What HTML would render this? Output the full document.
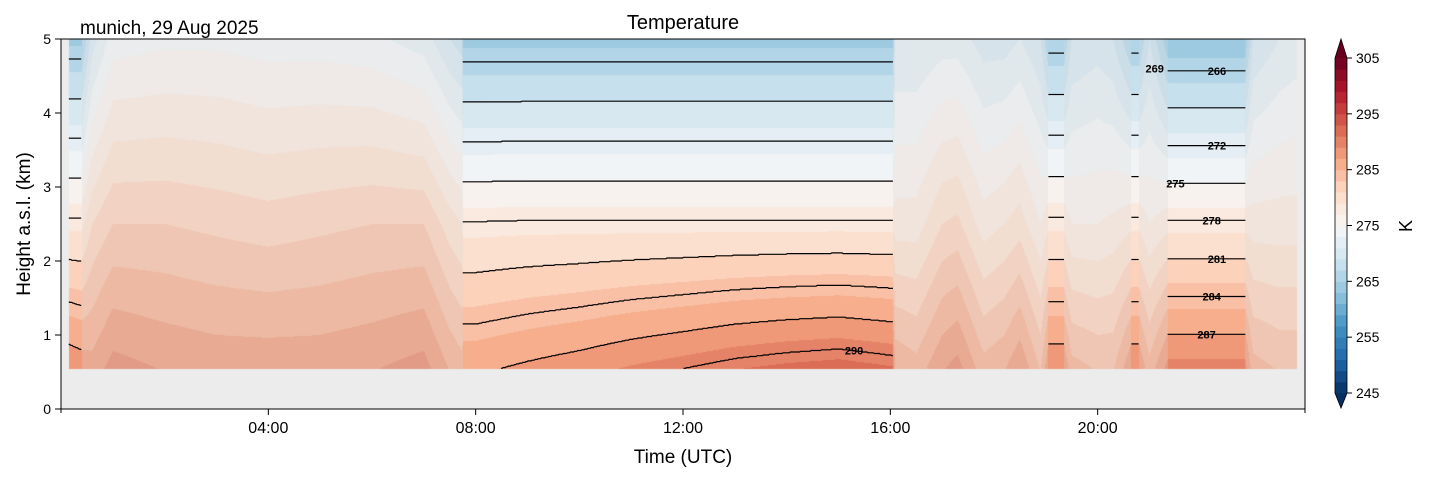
<!DOCTYPE html>
<html><head><meta charset="utf-8">
<style>
body{margin:0;background:#fff;width:1429px;height:478px;overflow:hidden;font-family:"Liberation Sans",sans-serif}
#wrap{position:relative;width:1429px;height:478px}
canvas{position:absolute;left:0;top:0}
svg{position:absolute;left:0;top:0}
</style></head>
<body>
<div id="wrap">
<canvas id="cv" width="1429" height="478"></canvas>
<svg id="sv" width="1429" height="478"></svg>
</div>
<script>
const times=[0.15,0.4,0.6,1,2,3,4,5,6,7,7.5,7.74,7.75,8,9,10,11,12,13,14,15,16.05,16.1,16.5,17,17.3,17.8,18.2,18.5,18.9,19.05,19.35,19.5,20,20.3,20.65,20.8,21,21.35,22,22.85,23,23.5,24];
const tLow=[289,288.5,288,290,289,288.5,288.5,288.5,289,290,287,286,286.8,286.8,287.7,288.5,289.5,290.3,291.2,291.8,292.2,291.5,287,286,289,290,286,287,289,285,289,289,286,285,285,289,289,286,290,290,290,286,285,285];
const tMid=[278.5,278.5,281,283,283,282.5,282,282.5,283,283,280,279,278.2,278.2,278.3,278.3,278.3,278.3,278.3,278.3,278.3,278.3,278,278,281,281.5,278,279,280,277,278.5,278.5,277,277,277.5,278.5,278.5,277,278.3,278.3,278.3,278,278,278];
const tTop=[264.5,264.5,270,274,274.5,274.5,274,274,273.5,272,269,268,264.3,264.3,264.3,264.3,264.3,264.3,264.3,264.3,264.3,264.3,271,271,272,272,270,270,271,269,265,265,269,270,269,265,265,269,263.5,263.5,263.5,269,271,272];
const unmaskedSpans=[[0.15,0.4],[7.75,16.05],[19.05,19.35],[20.65,20.8],[21.35,22.85]];
const contourLevels=[266,269,272,275,278,281,284,287,290];
const cbTicks=[245,255,265,275,285,295,305];
const xTicks=["04:00","08:00","12:00","16:00","20:00"];
const xTickHours=[4,8,12,16,20];
const yTicks=[0,1,2,3,4,5];

const L=61,T=39,W=1244,H=370;
const xs=t=>L+t*W/24, ys=h=>T+H-h*H/5;
const stops=[[5,48,97],[33,102,172],[67,147,195],[146,197,222],[209,229,240],[247,247,247],[253,219,199],[244,165,130],[214,96,77],[178,24,43],[103,0,31]];
function cmap(v){let f=(v-245)/60;f=Math.max(0,Math.min(0.9999,f));const p=f*10,i=Math.floor(p),r=p-i;return stops[i].map((c,k)=>Math.round(c+(stops[i+1][k]-c)*r));}
function band(v){const b=Math.floor((v-245)/2);return cmap(245+b*2+1);}
function interp(t,arr){if(t<=times[0])return arr[0];for(let i=1;i<times.length;i++){if(t<=times[i]){const r=(t-times[i-1])/(times[i]-times[i-1]);return arr[i-1]+(arr[i]-arr[i-1])*r;}}return arr[arr.length-1];}
function prof(t,h){const a=interp(t,tLow),b=interp(t,tMid),c=interp(t,tTop);if(h<2.5)return a+(b-a)*(h-0.5)/2;return b+(c-b)*(h-2.5)/2.5;}
function unmasked(t){return unmaskedSpans.some(s=>t>=s[0]&&t<=s[1]);}
const cv=document.getElementById('cv'),ctx=cv.getContext('2d');
ctx.fillStyle='#ececec';ctx.fillRect(L,T,W,H);
const img=ctx.getImageData(L,T,W,H);
const y0=ys(0.55)-T;
for(let px=0;px<W;px++){const t=(px+0.5)*24/W;if(t<0.15||t>23.85)continue;const um=unmasked(t);
 for(let py=0;py<y0;py++){const h=5-(py+0.5)*5/H;let c=band(prof(t,h));if(!um){c=c.map(v=>Math.round(v*0.72+215*0.28));}
  const o=(py*W+px)*4;img.data[o]=c[0];img.data[o+1]=c[1];img.data[o+2]=c[2];img.data[o+3]=255;}}
ctx.putImageData(img,L,T);

const NS='http://www.w3.org/2000/svg',sv=document.getElementById('sv');
function el(tag,attrs,txt){const e=document.createElementNS(NS,tag);for(const k in attrs)e.setAttribute(k,attrs[k]);if(txt!=null)e.textContent=txt;sv.appendChild(e);return e;}
unmaskedSpans.forEach((s,si)=>{contourLevels.forEach(lv=>{let pts=[];for(let t=s[0];t<=s[1]+1e-6;t+=0.02){let found=null;for(let h=0.55;h<5;h+=0.01){const a=prof(t,h),b=prof(t,h+0.01);if((a-lv)*(b-lv)<=0){found=h;break;}}
 if(found!==null)pts.push(xs(t).toFixed(1)+','+ys(found).toFixed(1));else if(pts.length>1){break;}}
 if(pts.length>1){const p=el('polyline',{points:pts.join(' '),fill:'none',stroke:'#000','stroke-width':1.2});
 
 }});});
[[266,22.3],[269,21.1],[272,22.3],[275,21.5],[278,22.2],[281,22.3],[284,22.2],[287,22.1],[290,15.3]].forEach(d=>{let hh=1;for(let h=0.55;h<5;h+=0.01){if((prof(d[1],h)-d[0])*(prof(d[1],h+0.01)-d[0])<=0){hh=h;break;}}
 const t=el('text',{x:xs(d[1]),y:ys(hh)+4,'font-size':11,'font-weight':'bold','text-anchor':'middle',fill:'#000'},d[0]);
 
 });
el('rect',{x:L,y:T,width:W,height:H,fill:'none',stroke:'#000','stroke-width':1,});
xTickHours.forEach((h,i)=>{el('line',{x1:xs(h),x2:xs(h),y1:T+H,y2:T+H+6,stroke:'#000'});const t=el('text',{x:xs(h),y:T+H+24,'font-size':16,'text-anchor':'middle'},xTicks[i]);});
[0,24].forEach(h=>el('line',{x1:xs(h),x2:xs(h),y1:T+H,y2:T+H+4,stroke:'#000'}));
yTicks.forEach(v=>{el('line',{x1:L-6,x2:L,y1:ys(v),y2:ys(v),stroke:'#000'});const t=el('text',{x:L-10,y:ys(v)+5,'font-size':14,'text-anchor':'end'},v);});
el('text',{x:683,y:463,'font-size':19,'text-anchor':'middle',},'Time (UTC)');
el('text',{x:30,y:224,'font-size':19,'text-anchor':'middle',transform:'rotate(-90 30 224)',},'Height a.s.l. (km)');
el('text',{x:683,y:29,'font-size':20,'text-anchor':'middle',},'Temperature');
el('text',{x:80,y:34,'font-size':19,},'munich, 29 Aug 2025');
const cx=1335,cw=12,cyTop=58,cyBot=393;const cy=v=>cyBot-(v-245)*(cyBot-cyTop)/60;
for(let v=245;v<305;v+=2){const c=cmap(v+1);const r=el('rect',{x:cx,y:cy(v+2),width:cw,height:cy(v)-cy(v+2)+0.5,fill:'rgb('+c+')'});}
el('polygon',{points:`${cx},${cyTop} ${cx+cw},${cyTop} ${cx+cw/2},39`,fill:'rgb('+cmap(305)+')',});
el('polygon',{points:`${cx},${cyBot} ${cx+cw},${cyBot} ${cx+cw/2},408`,fill:'rgb('+cmap(244)+')',});
el('polygon',{points:`${cx+cw/2},39 ${cx+cw},${cyTop} ${cx+cw},${cyBot} ${cx+cw/2},408 ${cx},${cyBot} ${cx},${cyTop}`,fill:'none',stroke:'#000','stroke-width':0.8});
cbTicks.forEach(v=>{el('line',{x1:cx+cw,x2:cx+cw+5,y1:cy(v),y2:cy(v),stroke:'#000'});const t=el('text',{x:cx+cw+9,y:cy(v)+5,'font-size':14},v);});
el('text',{x:1412,y:226,'font-size':18,'text-anchor':'middle',transform:'rotate(-90 1412 226)',},'K');
</script>
</body></html>
